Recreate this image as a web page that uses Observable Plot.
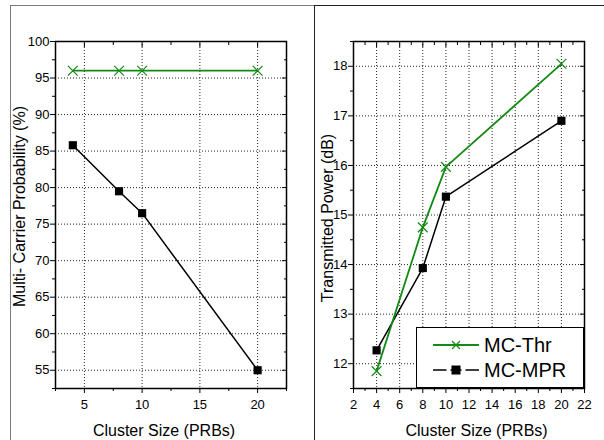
<!DOCTYPE html>
<html><head><meta charset="utf-8">
<script src="https://cdn.jsdelivr.net/npm/d3@7"></script>
<script src="https://cdn.jsdelivr.net/npm/@observablehq/plot@0.6"></script>
<style>
html,body{margin:0;padding:0;background:#fff;}
#wrap{position:relative;width:604px;height:440px;overflow:hidden;background:#fff;font-family:"Liberation Sans",Arial,sans-serif;}
#wrap svg{position:absolute;top:0;}
.pane{position:absolute;box-sizing:border-box;}
#legend{position:absolute;left:416px;top:327px;width:168px;height:61px;box-sizing:border-box;border:1.2px solid #000;background:#fff;}
</style></head><body><div id="wrap"></div>
<script>
// ---- data ----
const clusterSizes = [4, 8, 10, 20];
const seriesNames = ["MC-Thr", "MC-MPR"];
const seriesColors = ["#138a13", "#000000"];
const probThr = [96, 96, 96, 96];
const probMPR = [85.8, 79.5, 76.5, 55];
const powerThr = [11.85, 14.75, 15.97, 18.05];
const powerMPR = [12.27, 13.93, 15.37, 16.9];
// ---- tick labels ----
const leftXTicks = [5, 10, 15, 20];
const leftXMinor = [2.5, 7.5, 12.5, 17.5, 22.5];
const leftYTicks = [55, 60, 65, 70, 75, 80, 85, 90, 95, 100];
const leftYMinor = [52.5, 57.5, 62.5, 67.5, 72.5, 77.5, 82.5, 87.5, 92.5, 97.5];
const rightXTicks = [2, 4, 6, 8, 10, 12, 14, 16, 18, 20, 22];
const rightXMinor = [3, 5, 7, 9, 11, 13, 15, 17, 19, 21];
const rightYTicks = [12, 13, 14, 15, 16, 17, 18];
const rightYMinor = [11.5, 12.5, 13.5, 14.5, 15.5, 16.5, 17.5, 18.5];
const xLabel = "Cluster Size (PRBs)";
const leftYLabel = "Multi- Carrier Probability (%)";
const rightYLabel = "Transmitted Power (dB)";

function rows(a, b) {
  const out = [];
  [a, b].forEach((vals, s) => clusterSizes.forEach((x, i) => out.push({x, y: vals[i], s: seriesNames[s]})));
  return out;
}

const FONT = "Liberation Sans, Arial, sans-serif";
const empty = () => "";
const fmt = d => String(d);

function panel({width, marginLeft, marginRight, xDomain, yDomain, xT, xM, yT, yM, data, yLabel, ylx, yly, xlx}) {
  const gx = xT.filter(v => v > xDomain[0] && v < xDomain[1]);
  const gy = yT.filter(v => v > yDomain[0] && v < yDomain[1]);
  const thr = data.filter(d => d.s === seriesNames[0]);
  const mpr = data.filter(d => d.s === seriesNames[1]);
  return Plot.plot({
    width, height: 440, marginLeft, marginRight, marginTop: 41, marginBottom: 52,
    style: {fontFamily: FONT, fontSize: "13px", color: "#000", background: "transparent"},
    x: {domain: xDomain}, y: {domain: yDomain},
    marks: [
      Plot.gridX(gx, {stroke: "#000", strokeOpacity: 0.85, strokeDasharray: "1,2"}),
      Plot.gridY(gy, {stroke: "#000", strokeOpacity: 0.85, strokeDasharray: "1,2"}),
      // bottom
      Plot.axisX(xT, {anchor: "bottom", tickSize: 5, tickPadding: 6, tickFormat: fmt, label: null, fontSize: 13}),
      Plot.axisX(xM, {anchor: "bottom", tickSize: 3, tickFormat: empty, label: null}),
      // top (inward)
      Plot.axisX(xT, {anchor: "top", tickSize: -5, tickFormat: empty, label: null}),
      Plot.axisX(xM, {anchor: "top", tickSize: -3, tickFormat: empty, label: null}),
      // left
      Plot.axisY(yT, {anchor: "left", tickSize: 5, tickPadding: 1, tickFormat: fmt, label: null, fontSize: 13}),
      Plot.axisY(yM, {anchor: "left", tickSize: 3, tickFormat: empty, label: null}),
      // right (inward)
      Plot.axisY(yT, {anchor: "right", tickSize: -5, tickFormat: empty, label: null}),
      Plot.axisY(yM, {anchor: "right", tickSize: -3, tickFormat: empty, label: null}),
      Plot.frame({stroke: "#000", strokeWidth: 1.5}),
      Plot.line(mpr, {x: "x", y: "y", stroke: seriesColors[1], strokeWidth: 1.5}),
      Plot.line(thr, {x: "x", y: "y", stroke: seriesColors[0], strokeWidth: 1.8}),
      Plot.dot(mpr, {x: "x", y: "y", symbol: "square", r: 4.6, fill: seriesColors[1], stroke: "none"}),
      Plot.dot(thr, {x: "x", y: "y", symbol: "times", r: 4.5, stroke: seriesColors[0], strokeWidth: 1.2}),
      Plot.text([xLabel], {text: d => d, frameAnchor: "bottom", dy: 42, dx: xlx, fontSize: 16, textAnchor: "middle", lineAnchor: "middle"}),
      Plot.text([yLabel], {text: d => d, frameAnchor: "left", rotate: -90, dx: ylx, dy: yly, fontSize: 16, textAnchor: "middle", lineAnchor: "middle"})
    ]
  });
}

const wrap = document.getElementById("wrap");

// panel borders
const pl = document.createElement("div");
pl.className = "pane";
Object.assign(pl.style, {left: "10px", top: "5px", width: "306px", height: "440px", borderLeft: "1.5px solid #7a7a7a", borderTop: "1.5px solid #7a7a7a"});
wrap.appendChild(pl);
const pr = document.createElement("div");
pr.className = "pane";
Object.assign(pr.style, {left: "314px", top: "5px", width: "300px", height: "440px", borderLeft: "1.5px solid #222", borderTop: "1.5px solid #222"});
wrap.appendChild(pr);

const left = panel({
  width: 315, marginLeft: 55, marginRight: 29,
  xDomain: [2.5, 22.5], yDomain: [52.5, 100],
  xT: leftXTicks, xM: leftXMinor, yT: leftYTicks, yM: leftYMinor,
  data: rows(probThr, probMPR), yLabel: leftYLabel, ylx: -36, yly: -8.5, xlx: -7
});
left.style.left = "0px";
wrap.appendChild(left);

const right = panel({
  width: 289, marginLeft: 38, marginRight: 20,
  xDomain: [2, 22], yDomain: [11.5, 18.5],
  xT: rightXTicks, xM: rightXMinor, yT: rightYTicks, yM: rightYMinor,
  data: rows(powerThr, powerMPR), yLabel: rightYLabel, ylx: -26, yly: 3, xlx: 7.5
});
right.style.left = "315px";
wrap.appendChild(right);

// legend
const lg = document.createElement("div");
lg.id = "legend";
const ns = "http://www.w3.org/2000/svg";
const ls = document.createElementNS(ns, "svg");
ls.setAttribute("width", 166); ls.setAttribute("height", 59);
ls.style.position = "absolute"; ls.style.left = "0"; ls.style.top = "0";
seriesNames.forEach((name, i) => {
  const cy = 17 + i * 25;
  const line = document.createElementNS(ns, "line");
  line.setAttribute("x1", 16); line.setAttribute("x2", 62);
  line.setAttribute("y1", cy); line.setAttribute("y2", cy);
  line.setAttribute("stroke", seriesColors[i]); line.setAttribute("stroke-width", i === 0 ? 1.8 : 1.5);
  ls.appendChild(line);
  if (i === 0) {
    const p = document.createElementNS(ns, "path");
    p.setAttribute("d", `M35,${cy-4}L43,${cy+4}M35,${cy+4}L43,${cy-4}`);
    p.setAttribute("stroke", seriesColors[i]); p.setAttribute("stroke-width", 1.2);
    ls.appendChild(p);
  } else {
    const r = document.createElementNS(ns, "rect");
    r.setAttribute("x", 34.5); r.setAttribute("y", cy - 4.5);
    r.setAttribute("width", 9); r.setAttribute("height", 9);
    r.setAttribute("fill", "#000");
    ls.appendChild(r);
    [[28.5, 34.5], [43.5, 49.5]].forEach(([a, b]) => {
      const g = document.createElementNS(ns, "line");
      g.setAttribute("x1", a + 1); g.setAttribute("x2", b - 1);
      g.setAttribute("y1", cy); g.setAttribute("y2", cy);
      g.setAttribute("stroke", "#fff"); g.setAttribute("stroke-width", 3);
      ls.appendChild(g);
    });
  }
  const t = document.createElementNS(ns, "text");
  t.setAttribute("x", 67); t.setAttribute("y", cy);
  t.setAttribute("dy", "0.35em");
  t.setAttribute("font-size", 20);
  t.setAttribute("font-family", FONT);
  t.textContent = name;
  ls.appendChild(t);
});
lg.appendChild(ls);
wrap.appendChild(lg);
</script></body></html>
